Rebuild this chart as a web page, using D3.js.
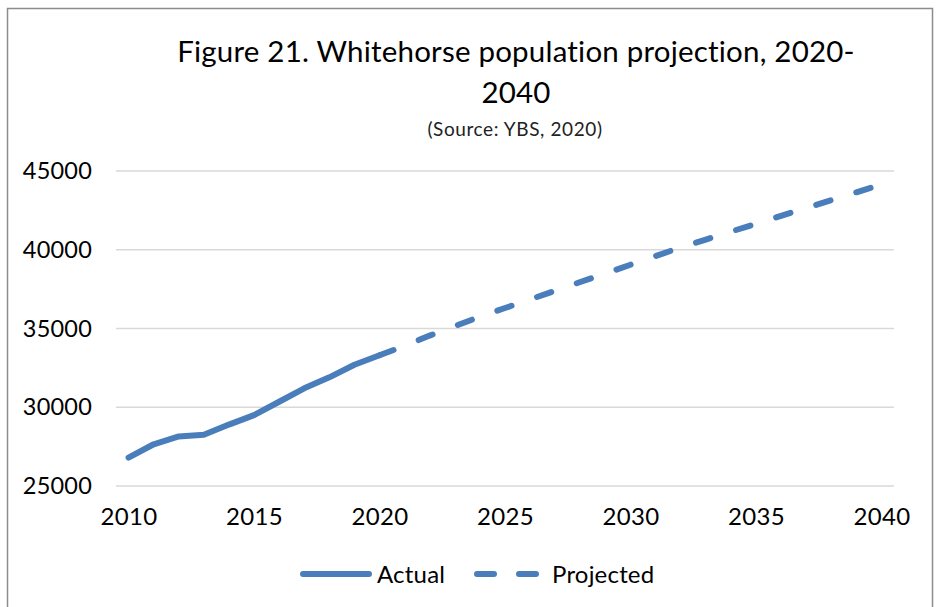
<!DOCTYPE html>
<html>
<head>
<meta charset="utf-8">
<script src="https://cdn.jsdelivr.net/npm/d3@7"></script>
<style>
  html, body { margin: 0; padding: 0; background: #fff; }
  svg { display: block; font-family: Lato, "Open Sans", sans-serif; }
</style>
</head>
<body>
<svg id="chart" width="940" height="607"></svg>
<script>
// Whitehorse population: recorded years and the YBS projection
const actualYears = [2010, 2011, 2012, 2013, 2014, 2015, 2016, 2017, 2018, 2019, 2020];
const actualValues = [26800, 27650, 28150, 28250, 28900, 29500, 30350, 31200, 31900, 32700, 33300];

const projectedYears = [2020, 2021, 2022, 2023, 2024, 2025, 2026, 2027, 2028, 2029, 2030,
                        2031, 2032, 2033, 2034, 2035, 2036, 2037, 2038, 2039, 2040];
const projectedValues = [33300, 33900, 34550, 35150, 35750, 36300, 36850, 37400, 37950, 38500, 39050,
                         39600, 40150, 40650, 41150, 41650, 42150, 42650, 43150, 43650, 44150];

const allYears = d3.range(2010, 2041);
const xTickLabels = [2010, 2015, 2020, 2025, 2030, 2035, 2040];
const yTickValues = [25000, 30000, 35000, 40000, 45000];

const titleLines = ["Figure 21. Whitehorse population projection, 2020-", "2040"];
const subtitle = "(Source: YBS, 2020)";
const seriesNames = ["Actual", "Projected"];

const lineColor = "#4a7ebb";
const svg = d3.select("#chart");

// outer frame
svg.append("rect")
  .attr("x", 7.5).attr("y", 8.5)
  .attr("width", 925).attr("height", 610)
  .attr("fill", "none").attr("stroke", "#8c8c8c").attr("stroke-width", 1.5);

// titles
svg.append("text").attr("x", 516).attr("y", 62)
  .attr("text-anchor", "middle").attr("font-size", 29.5).attr("letter-spacing", 0.2).attr("fill", "#000")
  .text(titleLines[0]);
svg.append("text").attr("x", 516).attr("y", 103)
  .attr("text-anchor", "middle").attr("font-size", 29.5).attr("letter-spacing", 0.2).attr("fill", "#000")
  .text(titleLines[1]);
svg.append("text").attr("x", 515).attr("y", 136)
  .attr("text-anchor", "middle").attr("font-size", 19).attr("letter-spacing", 0.6).attr("fill", "#222")
  .text(subtitle);

// scales
const x = d3.scalePoint().domain(allYears).range([116, 894]).padding(0.5);
const y = d3.scaleLinear().domain([25000, 45000]).range([486, 171]);

// horizontal gridlines
svg.append("g").selectAll("line")
  .data(yTickValues)
  .join("line")
  .attr("x1", 116).attr("x2", 894)
  .attr("y1", d => y(d)).attr("y2", d => y(d))
  .attr("stroke", "#d9d9d9").attr("stroke-width", 1.3);

// y axis labels
const yAxis = d3.axisLeft(y).tickValues(yTickValues).tickSize(0).tickPadding(0)
  .tickFormat(d3.format("d"));
svg.append("g").attr("transform", "translate(92,0)").call(yAxis)
  .call(g => g.select(".domain").remove())
  .call(g => g.selectAll("text").attr("font-size", 23.5).attr("letter-spacing", 0.2).attr("fill", "#000")
    .attr("font-family", "Lato, sans-serif"));

// x axis labels
const xAxis = d3.axisBottom(x).tickValues(xTickLabels).tickSize(0).tickPadding(0)
  .tickFormat(d3.format("d"));
svg.append("g").attr("transform", "translate(0,508)").call(xAxis)
  .call(g => g.select(".domain").remove())
  .call(g => g.selectAll("text").attr("font-size", 24).attr("letter-spacing", 0.3).attr("fill", "#000")
    .attr("font-family", "Lato, sans-serif"));

const line = d3.line().x(d => x(d[0])).y(d => y(d[1]));

// projected series (dashed), drawn under the recorded series
svg.append("path")
  .datum(d3.zip(projectedYears, projectedValues))
  .attr("d", line)
  .attr("fill", "none").attr("stroke", lineColor)
  .attr("stroke-width", 6).attr("stroke-linecap", "round")
  .attr("stroke-dasharray", "15,27");

// recorded series (solid)
svg.append("path")
  .datum(d3.zip(actualYears, actualValues))
  .attr("d", line)
  .attr("fill", "none").attr("stroke", lineColor)
  .attr("stroke-width", 6).attr("stroke-linecap", "round")
  .attr("stroke-linejoin", "round");

// legend
const legendY = 574;
svg.append("line")
  .attr("x1", 303).attr("x2", 369).attr("y1", legendY).attr("y2", legendY)
  .attr("stroke", lineColor).attr("stroke-width", 6).attr("stroke-linecap", "round");
svg.append("text").attr("x", 377).attr("y", legendY + 8.5)
  .attr("font-size", 24).attr("letter-spacing", 0.2).attr("fill", "#000").text(seriesNames[0]);
svg.append("line")
  .attr("x1", 477).attr("x2", 537).attr("y1", legendY).attr("y2", legendY)
  .attr("stroke", lineColor).attr("stroke-width", 6).attr("stroke-linecap", "round")
  .attr("stroke-dasharray", "17,25");
svg.append("text").attr("x", 552).attr("y", legendY + 8.5)
  .attr("font-size", 24).attr("letter-spacing", 0.2).attr("fill", "#000").text(seriesNames[1]);
</script>
</body>
</html>
